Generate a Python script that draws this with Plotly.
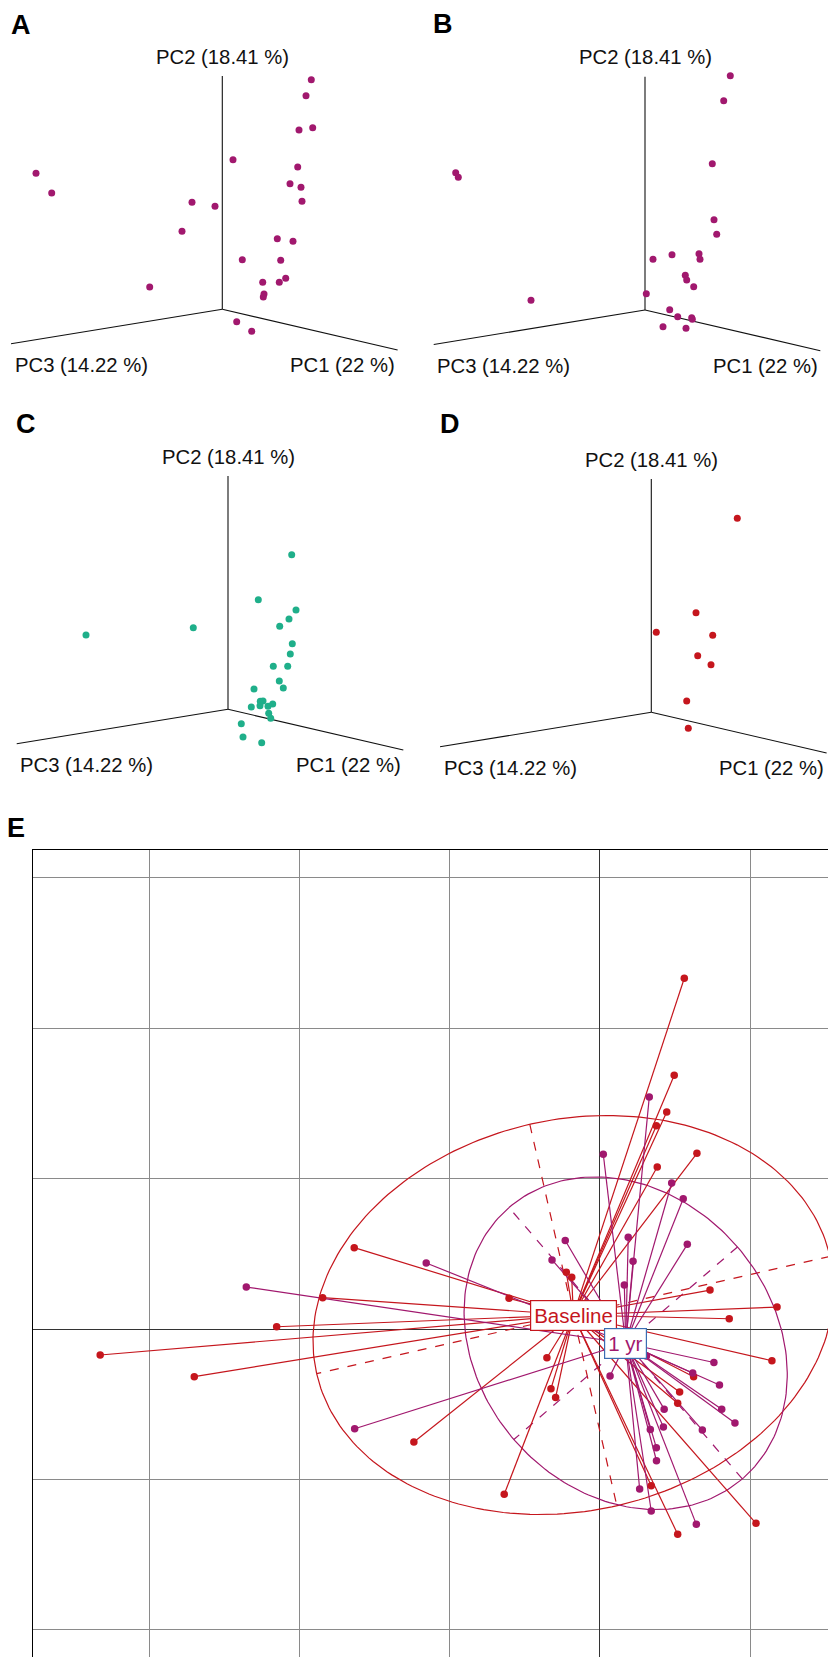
import numpy as np
import plotly.graph_objects as go

W, H = 828, 1657
RED = "#C5161D"
PURPLE = "#A1186E"
GREEN = "#1FAF8A"
BOX_BLUE = "#3B6DB3"
FONT = "Liberation Sans, Arial, Helvetica, sans-serif"

# ---------------- data: panels A-D (projected PC1/PC2/PC3 coordinates) ----------------
axis_labels = ["PC1 (22 %)", "PC2 (18.41 %)", "PC3 (14.22 %)"]
# projected directions of the three PC axes
pc1_tip = (1.753, -0.407)
pc2_tip = (0.0, 2.333)
pc3_tip = (-2.113, -0.345)

panelA_x = [0.890, 0.837, 0.767, 0.904, 0.107, 0.754, 0.677, 0.787, 0.797, -1.863, -1.706, -0.303, -0.073,
            -0.403, 0.550, 0.707, 0.200, 0.584, -0.726, 0.404, 0.570, 0.634, 0.417, 0.410, 0.144, 0.294]
panelA_y = [2.296, 2.136, 1.793, 1.816, 1.496, 1.423, 1.256, 1.220, 1.080, 1.360, 1.163, 1.070, 1.030,
            0.780, 0.706, 0.680, 0.496, 0.490, 0.223, 0.270, 0.270, 0.310, 0.153, 0.123, -0.124, -0.220]

panelB_x = [0.853, 0.787, 0.673, -1.893, -1.867, 0.690, 0.717, 0.080, 0.270, 0.540, 0.550, 0.403, 0.417,
            0.487, 0.013, -1.140, 0.247, 0.327, 0.467, 0.473, 0.180, 0.410]
panelB_y = [2.343, 2.093, 1.463, 1.373, 1.327, 0.903, 0.757, 0.507, 0.553, 0.563, 0.507, 0.347, 0.300,
            0.233, 0.163, 0.097, 0.003, -0.067, -0.077, -0.093, -0.167, -0.183]

panelC_x = [0.637, 0.303, 0.680, 0.610, 0.517, -0.347, -1.420, 0.643, 0.623, 0.453, 0.597, 0.513, 0.553,
            0.260, 0.323, 0.350, 0.320, 0.233, 0.400, 0.447, 0.407, 0.427, 0.133, 0.150, 0.337]
panelC_y = [1.546, 1.096, 0.993, 0.903, 0.830, 0.816, 0.743, 0.656, 0.553, 0.430, 0.430, 0.283, 0.213,
            0.203, 0.080, 0.083, 0.036, 0.023, 0.030, 0.053, -0.040, -0.090, -0.144, -0.277, -0.334]

panelD_x = [0.860, 0.447, 0.050, 0.614, 0.464, 0.597, 0.354, 0.370]
panelD_y = [1.940, 0.996, 0.800, 0.770, 0.566, 0.476, 0.113, -0.160]

# ---------------- data: panel E (two groups, star plot) ----------------
group_labels = ["Baseline", "1 yr"]
base_x = [0.561, 0.494, 0.444, 0.375, 0.645, 0.381, -0.224, -0.188, 0.732, -0.605, 1.178, 0.860, 1.144,
          -0.353, 0.623, -0.326, -0.295, 0.530, 0.517, -1.238, -0.637, 0.341, 0.517, 1.038, -1.635,
          -1.845, -2.151, -3.325, -2.699]
base_y = [2.332, 1.687, 1.443, 1.352, 1.168, 1.077, 0.377, 0.344, 0.259, 0.204, 0.146, 0.068, -0.211,
          -0.191, -0.317, -0.397, -0.455, -0.419, -0.494, -0.751, -1.099, -1.042, -1.365, -1.292, 0.541,
          0.208, 0.015, -0.173, -0.317]
yr1_x = [0.328, 0.022, 0.477, 0.554, 0.581, -0.231, 0.188, -1.156, -0.319, 0.220, 0.162, 0.758, 0.309,
         0.067, 0.617, 0.795, 0.427, 0.810, 0.898, 0.335, 0.422, 0.681, 0.375, 0.376, 0.264, 0.341,
         0.641, -2.353, -1.632]
yr1_y = [1.543, 1.162, 0.971, 0.866, 0.563, 0.588, 0.610, 0.439, 0.459, 0.450, 0.293, -0.223, -0.180,
         -0.313, -0.293, -0.372, -0.533, -0.534, -0.625, -0.668, -0.652, -0.672, -0.789, -0.876, -1.064,
         -1.210, -1.299, 0.279, -0.663]

fig = go.Figure()


def dom_x(a, b):
    return [a / W, b / W]


def dom_y(a, b):
    return [(H - b) / H, (H - a) / H]


# ---------------- panels A-D ----------------
panels = [
    ("A", (0, 414, 0, 390), (222.3, 309.3), panelA_x, panelA_y, PURPLE, (20.7, 25)),
    ("B", (414, 828, 0, 390), (645.0, 310.0), panelB_x, panelB_y, PURPLE, (443.3, 24)),
    ("C", (0, 414, 390, 780), (228.0, 709.3), panelC_x, panelC_y, GREEN, (25.7, 424)),
    ("D", (414, 828, 390, 780), (651.3, 712.3), panelD_x, panelD_y, RED, (449.7, 424)),
]
SC = 100.0
annotations = []
for k, (letter, (x0, x1, y0, y1), (ox, oy), xs, ys, col, lp) in enumerate(panels, start=2):
    xa, ya = f"x{k}", f"y{k}"
    fig.add_trace(go.Scatter(
        x=[0, pc2_tip[0], None, 0, pc3_tip[0], None, 0, pc1_tip[0]],
        y=[0, pc2_tip[1], None, 0, pc3_tip[1], None, 0, pc1_tip[1]],
        mode="lines", line=dict(color="#111111", width=1.1), xaxis=xa, yaxis=ya,
        showlegend=False, hoverinfo="skip"))
    fig.add_trace(go.Scatter(x=xs, y=ys, mode="markers",
                             marker=dict(color=col, size=7, line=dict(width=0)),
                             xaxis=xa, yaxis=ya, showlegend=False))
    fig.layout[f"xaxis{k}"] = dict(domain=dom_x(x0, x1), range=[(x0 - ox) / SC, (x1 - ox) / SC],
                                   visible=False, fixedrange=True, anchor=ya)
    fig.layout[f"yaxis{k}"] = dict(domain=dom_y(y0, y1), range=[(oy - y1) / SC, (oy - y0) / SC],
                                   visible=False, fixedrange=True, anchor=xa)
    for txt, (tx, ty) in zip(axis_labels, [(1.204, -0.557), (0.0, 2.527), (-1.413, -0.557)]):
        annotations.append(dict(text=txt, x=tx, y=ty, xref=xa, yref=ya, showarrow=False,
                                xanchor="center", yanchor="middle",
                                font=dict(family=FONT, size=20.3, color="#111111")))
    annotations.append(dict(text=f"<b>{letter}</b>", x=lp[0] / W, y=1 - lp[1] / H, xref="paper",
                            yref="paper", showarrow=False, xanchor="center", yanchor="middle",
                            font=dict(family=FONT, size=27, color="#000000")))

annotations.append(dict(text="<b>E</b>", x=16 / W, y=1 - 827.7 / H, xref="paper", yref="paper",
                        showarrow=False, xanchor="center", yanchor="middle",
                        font=dict(family=FONT, size=27, color="#000000")))


# ---------------- panel E ----------------
def ellipse(xs, ys, k=1.5, n=240):
    x = np.asarray(xs, float)
    y = np.asarray(ys, float)
    mx, my = x.mean(), y.mean()
    cov = np.cov(np.vstack([x, y]), bias=True)
    vals, vecs = np.linalg.eigh(cov)
    order = np.argsort(vals)[::-1]
    vals, vecs = vals[order], vecs[:, order]
    a = k * np.sqrt(vals[0]) * vecs[:, 0]
    b = k * np.sqrt(vals[1]) * vecs[:, 1]
    t = np.linspace(0, 2 * np.pi, n)
    ex = mx + a[0] * np.cos(t) + b[0] * np.sin(t)
    ey = my + a[1] * np.cos(t) + b[1] * np.sin(t)
    axx = [mx - a[0], mx + a[0], None, mx - b[0], mx + b[0]]
    axy = [my - a[1], my + a[1], None, my - b[1], my + b[1]]
    return mx, my, ex, ey, axx, axy


groups = [(base_x, base_y, RED), (yr1_x, yr1_y, PURPLE)]
centers = []
for xs, ys, col in groups:
    mx, my, ex, ey, axx, axy = ellipse(xs, ys)
    centers.append((mx, my))
    fig.add_trace(go.Scatter(x=ex, y=ey, mode="lines", line=dict(color=col, width=1.2),
                             showlegend=False, hoverinfo="skip"))
    fig.add_trace(go.Scatter(x=axx, y=axy, mode="lines", line=dict(color=col, width=1.2, dash="dash"),
                             showlegend=False, hoverinfo="skip"))

for (xs, ys, col), (mx, my) in zip(groups, centers):
    sx, sy = [], []
    for xi, yi in zip(xs, ys):
        sx += [mx, xi, None]
        sy += [my, yi, None]
    fig.add_trace(go.Scatter(x=sx, y=sy, mode="lines", line=dict(color=col, width=1.2),
                             showlegend=False, hoverinfo="skip"))

for xs, ys, col in groups:
    fig.add_trace(go.Scatter(x=xs, y=ys, mode="markers",
                             marker=dict(color=col, size=7.5, line=dict(width=0)), showlegend=False))

for (lab, (mx, my), col, bcol) in zip(group_labels, centers, [RED, PURPLE], [RED, BOX_BLUE]):
    annotations.append(dict(text=lab, x=mx, y=my, xref="x", yref="y", showarrow=False,
                            xanchor="center", yanchor="middle",
                            font=dict(family=FONT, size=20.5, color=col),
                            bgcolor="white", bordercolor=bcol, borderwidth=1.2, borderpad=3))

fig.update_layout(
    width=W, height=H,
    margin=dict(l=0, r=0, t=0, b=0),
    paper_bgcolor="white", plot_bgcolor="white",
    showlegend=False,
    annotations=annotations,
    xaxis=dict(domain=dom_x(33, 828), range=[-3.772, 1.517], tick0=0, dtick=1,
               showgrid=True, gridcolor="#8a8a8a", gridwidth=1,
               zeroline=True, zerolinecolor="#333333", zerolinewidth=1.3,
               showticklabels=False, ticks="", showline=True, linecolor="#000000", linewidth=1.3,
               side="top", fixedrange=True, anchor="y"),
    yaxis=dict(domain=dom_y(850, 1657), range=[-2.181, 3.185], tick0=0, dtick=1,
               showgrid=True, gridcolor="#8a8a8a", gridwidth=1,
               zeroline=True, zerolinecolor="#333333", zerolinewidth=1.3,
               showticklabels=False, ticks="", showline=True, linecolor="#000000", linewidth=1.3,
               fixedrange=True, anchor="x"),
)

fig.write_html("out.html", config={"displayModeBar": False},
               post_script="document.body.style.margin='0';document.body.style.overflow='hidden';")
